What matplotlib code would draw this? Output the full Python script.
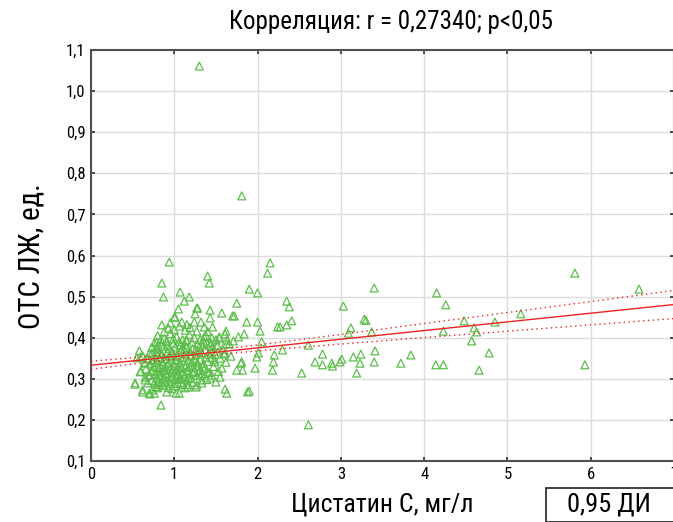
import numpy as np
import matplotlib
matplotlib.use("Agg")
import matplotlib.pyplot as plt
from matplotlib.patches import Rectangle

FONT = ['Liberation Sans Narrow', 'Arial Narrow', 'Roboto Condensed', 'PT Sans Narrow',
        'Archivo Narrow', 'Open Sans Condensed', 'DejaVu Sans']
plt.rcParams['font.family'] = FONT

# ---- data ----
points_periphery = [
    (1.30, 1.061), (1.81, 0.745), (0.94, 0.584), (0.85, 0.533), (0.87, 0.499), (2.15, 0.582),
    (2.12, 0.557), (1.40, 0.550), (1.42, 0.533), (1.07, 0.511), (1.18, 0.499), (1.12, 0.489),
    (1.90, 0.518), (2.00, 0.509), (1.75, 0.484), (2.35, 0.489), (2.38, 0.475), (1.05, 0.470),
    (1.27, 0.472), (1.25, 0.458), (1.43, 0.467), (1.43, 0.448), (1.57, 0.460), (1.70, 0.453),
    (1.72, 0.453), (1.01, 0.450), (0.95, 0.436), (0.85, 0.431), (1.09, 0.438), (1.24, 0.438),
    (1.32, 0.438), (1.36, 0.426), (1.46, 0.426), (1.87, 0.438), (2.00, 0.438), (2.03, 0.416),
    (2.24, 0.426), (2.35, 0.431), (2.41, 0.441), (1.62, 0.416), (1.61, 0.409), (1.84, 0.409),
    (1.77, 0.402), (1.71, 0.392), (1.54, 0.399), (1.63, 0.394), (2.05, 0.390), (2.30, 0.370),
    (2.20, 0.358), (2.19, 0.341), (2.18, 0.321), (1.97, 0.326), (2.01, 0.363), (1.99, 0.353),
    (1.80, 0.338), (1.75, 0.321), (1.82, 0.321), (1.57, 0.326), (1.48, 0.346), (1.90, 0.270),
    (1.61, 0.275), (1.63, 0.265), (1.50, 0.292), (1.55, 0.304), (0.53, 0.287), (0.58, 0.368),
    (0.62, 0.268), (0.71, 0.263), (0.76, 0.265), (0.84, 0.236), (0.91, 0.268), (1.02, 0.265),
    (1.06, 0.265), (1.16, 0.280), (1.26, 0.280), (0.65, 0.304), (1.00, 0.450), (1.28, 0.472),
]
points_right = [
    (3.40, 0.521), (4.15, 0.509), (4.26, 0.480), (3.03, 0.477), (2.27, 0.426), (3.28, 0.445),
    (3.30, 0.442), (3.12, 0.424), (3.09, 0.411), (3.37, 0.414), (4.23, 0.416), (4.48, 0.441),
    (4.60, 0.424), (4.63, 0.414), (4.57, 0.392), (2.61, 0.382), (3.41, 0.368), (2.78, 0.360),
    (3.15, 0.353), (3.24, 0.360), (3.84, 0.358), (2.69, 0.341), (2.78, 0.334), (2.89, 0.338),
    (2.90, 0.331), (2.99, 0.341), (3.01, 0.348), (3.23, 0.338), (3.40, 0.341), (3.72, 0.338),
    (4.14, 0.334), (4.23, 0.334), (4.66, 0.321), (2.53, 0.314), (3.19, 0.314), (2.61, 0.188),
    (5.81, 0.557), (6.58, 0.518), (4.85, 0.438), (5.16, 0.458), (4.78, 0.363), (5.93, 0.334),
]
points_core = [
    (0.80, 0.405), (0.88, 0.398), (0.95, 0.410), (1.03, 0.402), (1.10, 0.395), (1.18, 0.408),
    (1.24, 0.400), (1.31, 0.396), (1.38, 0.405), (0.76, 0.388), (0.84, 0.384), (0.91, 0.392),
    (0.99, 0.386), (1.06, 0.390), (1.13, 0.382), (1.21, 0.389), (1.28, 0.385), (1.35, 0.392),
    (1.44, 0.388), (0.73, 0.376), (0.81, 0.372), (0.87, 0.379), (0.94, 0.374), (1.01, 0.377),
    (1.08, 0.370), (1.15, 0.376), (1.22, 0.373), (1.30, 0.378), (1.37, 0.371), (0.70, 0.362),
    (0.78, 0.366), (0.85, 0.360), (0.92, 0.365), (0.98, 0.358), (1.05, 0.364), (1.12, 0.361),
    (1.19, 0.366), (1.26, 0.359), (1.33, 0.363), (1.41, 0.360), (0.67, 0.350), (0.75, 0.346),
    (0.82, 0.352), (0.89, 0.348), (0.96, 0.353), (1.03, 0.347), (1.10, 0.351), (1.17, 0.345),
    (1.24, 0.350), (1.31, 0.347), (1.38, 0.352), (0.71, 0.336), (0.79, 0.340), (0.86, 0.334),
    (0.93, 0.338), (1.00, 0.333), (1.07, 0.339), (1.14, 0.335), (1.21, 0.340), (1.28, 0.332),
    (1.35, 0.337), (0.66, 0.324), (0.74, 0.320), (0.81, 0.327), (0.88, 0.322), (0.95, 0.326),
    (1.02, 0.319), (1.09, 0.325), (1.16, 0.321), (1.23, 0.327), (1.30, 0.320), (0.69, 0.309),
    (0.77, 0.313), (0.84, 0.307), (0.91, 0.312), (0.98, 0.305), (1.05, 0.310), (1.12, 0.306),
    (1.19, 0.311), (1.27, 0.308), (1.34, 0.313), (0.73, 0.296), (0.80, 0.293), (0.87, 0.299),
    (0.94, 0.294), (1.01, 0.298), (1.08, 0.291), (1.15, 0.297), (1.22, 0.292), (0.78, 0.281),
    (0.86, 0.284), (0.93, 0.279), (1.00, 0.283), (1.10, 0.286),
    (0.84, 0.396), (0.92, 0.382), (0.97, 0.368), (1.04, 0.355), (1.12, 0.372), (1.20, 0.357),
    (1.26, 0.370), (0.86, 0.342), (0.94, 0.356), (1.01, 0.344), (1.08, 0.330), (1.15, 0.353),
    (1.22, 0.315), (0.77, 0.354), (0.83, 0.316), (0.90, 0.328), (0.97, 0.316), (1.04, 0.328),
    (1.11, 0.317), (1.18, 0.330), (1.25, 0.342), (0.88, 0.303), (0.95, 0.288), (1.02, 0.307),
    (1.09, 0.300), (1.17, 0.286), (0.75, 0.330), (0.82, 0.364), (0.99, 0.397), (1.07, 0.382),
    (1.14, 0.394), (1.29, 0.366), (1.36, 0.324), (1.40, 0.342), (1.45, 0.365), (1.47, 0.330),
    (1.42, 0.315), (1.39, 0.298), (1.33, 0.290), (0.64, 0.340), (0.62, 0.356), (0.60, 0.318),
    (0.88, 0.415), (0.93, 0.423), (1.00, 0.420), (1.06, 0.428), (1.13, 0.418), (1.19, 0.425),
    (1.27, 0.416), (1.15, 0.432), (1.40, 0.415), (1.45, 0.400), (1.50, 0.395), (1.52, 0.380),
    (1.58, 0.372), (1.49, 0.360), (1.55, 0.350), (1.60, 0.360), (1.53, 0.318), (1.62, 0.340),
    (1.66, 0.385), (1.68, 0.355), (1.34, 0.382), (1.39, 0.387), (1.43, 0.382), (1.46, 0.377),
    (1.51, 0.382), (1.61, 0.363), (1.45, 0.351), (1.49, 0.341), (1.28, 0.338), (1.34, 0.329),
    (1.40, 0.317), (1.45, 0.309), (1.31, 0.309), (1.33, 0.297), (1.43, 0.302), (1.27, 0.285),
    (1.88, 0.268), (1.36, 0.402), (1.54, 0.402), (1.63, 0.385), (1.81, 0.341), (0.55, 0.351),
    (0.59, 0.353), (0.65, 0.338), (0.53, 0.290), (0.59, 0.317), (0.65, 0.297), (0.71, 0.309),
    (0.62, 0.273), (0.70, 0.265), (0.74, 0.273), (0.80, 0.278), (0.85, 0.290), (0.73, 0.363),
    (0.78, 0.375), (0.79, 0.390), (0.91, 0.390), (1.15, 0.394),
    (0.72, 0.318), (0.79, 0.302), (0.83, 0.331), (0.89, 0.314), (0.96, 0.300), (1.03, 0.322),
    (1.10, 0.312), (1.17, 0.303), (1.24, 0.318), (0.76, 0.290), (0.82, 0.286), (0.90, 0.292),
    (0.97, 0.276), (1.04, 0.289), (1.13, 0.278), (1.20, 0.300), (0.68, 0.290), (0.86, 0.320),
    (0.92, 0.332), (0.99, 0.322), (1.06, 0.302), (1.13, 0.328), (0.74, 0.344), (0.81, 0.310),
]

all_points = points_periphery + points_right + points_core
cystatin = [p[0] for p in all_points]
ots = [p[1] for p in all_points]

# regression line and 0.95 confidence band
reg_intercept = 0.333
reg_slope = 0.0211
ci_mean_x = 1.3
ci_half_at_mean = 0.006
ci_half_slope = 0.0059

x_ticks = [0, 1, 2, 3, 4, 5, 6, 7]
y_ticks = [0.1, 0.2, 0.3, 0.4, 0.5, 0.6, 0.7, 0.8, 0.9, 1.0, 1.1]

title = "Корреляция: r = 0,27340; p<0,05"
x_label = "Цистатин С, мг/л"
y_label = "ОТС ЛЖ, ед."
ci_label = "0,95 ДИ"

# ---- figure ----
W, H = 673, 522
fig = plt.figure(figsize=(W / 100, H / 100), dpi=100)
ax = fig.add_axes([91 / W, 1 - 461 / H, (674 - 91) / W, (461 - 50) / H])

ax.set_xlim(0, 7)
ax.set_ylim(0.1, 1.1)
ax.set_xticks(x_ticks)
ax.set_yticks(y_ticks)
ax.set_xticklabels([str(t) for t in x_ticks])
ax.set_yticklabels([f"{t:.1f}".replace('.', ',') for t in y_ticks])
ax.grid(True, color='#dcdcdc', linewidth=1.0)
ax.set_axisbelow(True)
for s in ['left', 'top', 'bottom', 'right']:
    ax.spines[s].set_color('#505050')
    ax.spines[s].set_linewidth(1.5)
ax.tick_params(direction='in', length=3, width=1.2, color='#303030',
               top=True, right=True, labelsize=12, pad=4)

xs = np.linspace(0, 7, 200)
yfit = reg_intercept + reg_slope * xs
ci = np.sqrt(ci_half_at_mean ** 2 + (ci_half_slope * (xs - ci_mean_x)) ** 2)

ax.scatter(cystatin, ots, marker='^', s=32, facecolors='none',
           edgecolors='#5cbf4c', linewidths=0.9, zorder=3)
ax.plot(xs, yfit, color='#ee2222', linewidth=1.0, zorder=4)
ax.plot(xs, yfit + ci, color='#ee2222', linewidth=1.0, linestyle=(0, (1, 2.5)), zorder=4)
ax.plot(xs, yfit - ci, color='#ee2222', linewidth=1.0, linestyle=(0, (1, 2.5)), zorder=4)

fig.text(391 / W, 1 - 22 / H, title, ha='center', va='center', fontsize=18)
fig.text(382 / W, 1 - 505 / H, x_label, ha='center', va='center', fontsize=18.5)
fig.text(31 / W, 1 - 256 / H, y_label, ha='center', va='center', fontsize=21, rotation=90)

fig.patches.append(Rectangle((546 / W, 0), (700 - 546) / W, (522 - 488) / H,
                             transform=fig.transFigure, fill=False,
                             edgecolor='#202020', linewidth=1.2))
fig.text(609 / W, 1 - 505 / H, ci_label, ha='center', va='center', fontsize=19)

fig.savefig('out.png', dpi=100)
